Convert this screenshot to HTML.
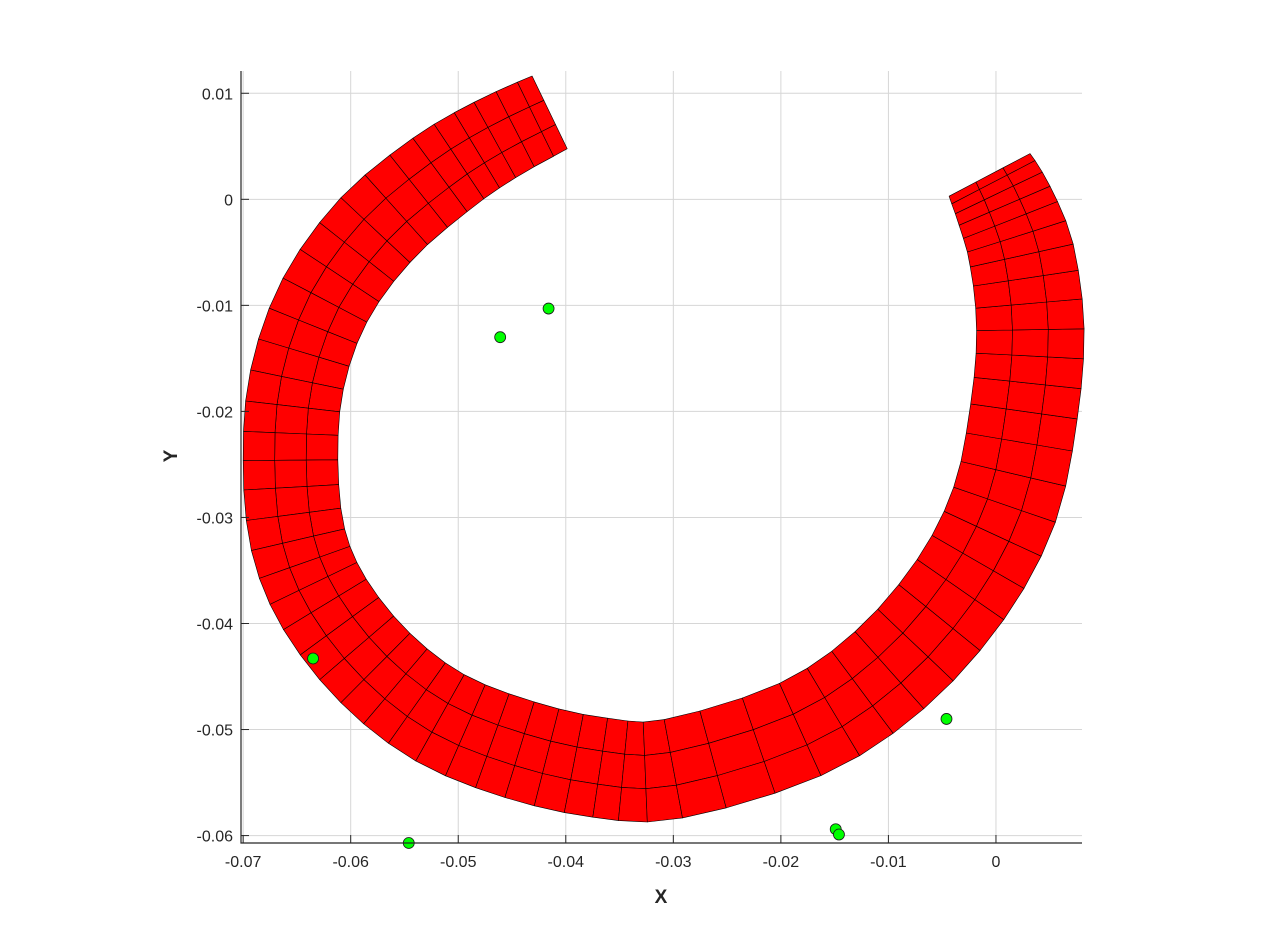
<!DOCTYPE html>
<html><head><meta charset="utf-8"><style>
body{margin:0;background:#fff;}
svg{display:block;font-family:"Liberation Sans",sans-serif;}
</style></head><body>
<svg id="chart" width="1280" height="948" viewBox="0 0 1280 948">
<rect x="0" y="0" width="1280" height="948" fill="#fff"/>
<g id="grid"></g>
<g id="surf"></g>
<g id="pts"></g>
<g id="axes"></g>
<text x="661" y="903" font-size="19" font-weight="bold" text-anchor="middle" fill="#262626">X</text>
<text x="177" y="456" font-size="19" font-weight="bold" text-anchor="middle" fill="#262626" transform="rotate(-90 177 456)">Y</text>
</svg>
<script>
const xTicks=[-0.07,-0.06,-0.05,-0.04,-0.03,-0.02,-0.01,0];
const xTickLabels=["-0.07","-0.06","-0.05","-0.04","-0.03","-0.02","-0.01","0"];
const yTicks=[0.01,0,-0.01,-0.02,-0.03,-0.04,-0.05,-0.06];
const yTickLabels=["0.01","0","-0.01","-0.02","-0.03","-0.04","-0.05","-0.06"];
const centerX=[-0.0415,-0.0466,-0.0517,-0.0577,-0.0624,-0.0650,-0.0656,-0.0649,-0.0624,-0.0577,-0.0517,-0.0443,-0.0368,-0.0300,-0.0182,-0.0099,-0.0033,0.0008,0.0026,0.0032,0.0024,0.0008,-0.0006];
const centerY=[0.0082,0.0056,0.0023,-0.0029,-0.0095,-0.0170,-0.0246,-0.0321,-0.0382,-0.0442,-0.0489,-0.0519,-0.0536,-0.0537,-0.0500,-0.0444,-0.0368,-0.0288,-0.0200,-0.0123,-0.0053,-0.0006,0.0023];
const tubeWidth=[0.0075,0.0080,0.0085,0.0088,0.0088,0.0088,0.0088,0.0089,0.0090,0.0091,0.0092,0.0093,0.0093,0.0093,0.0094,0.0096,0.0098,0.0100,0.0100,0.0100,0.0098,0.0092,0.0085];
const ptX=[-0.0416,-0.0461,-0.0635,-0.0546,-0.0149,-0.0146,-0.0046];
const ptY=[-0.0103,-0.0130,-0.0433,-0.0607,-0.0594,-0.0599,-0.0490];

const X0=-0.0702,X1=0.0080,Y0=-0.0607,Y1=0.0121;
const L=241,R=1082,T=71,B=843;
const sx=v=>L+(v-X0)/(X1-X0)*(R-L);
const sy=v=>B-(v-Y0)/(Y1-Y0)*(B-T);
const NS="http://www.w3.org/2000/svg";
function mk(tag,attrs,parent){const e=document.createElementNS(NS,tag);for(const k in attrs)e.setAttribute(k,attrs[k]);parent.appendChild(e);return e;}
const grid=document.getElementById('grid'),axes=document.getElementById('axes');
xTicks.forEach((t,i)=>{
  const l=mk('line',{x1:sx(t),x2:sx(t),y1:T,y2:B,stroke:'#d6d6d6','stroke-width':1},grid);
  
  const tk=mk('line',{x1:sx(t),x2:sx(t),y1:B,y2:B-8,stroke:'#262626'},axes);
  
  const tx=mk('text',{x:sx(t),y:B+24,'font-size':16,'text-anchor':'middle',fill:'#262626'},axes);
  tx.textContent=xTickLabels[i];
  
});
yTicks.forEach((t,i)=>{
  const l=mk('line',{x1:L,x2:R,y1:sy(t),y2:sy(t),stroke:'#d6d6d6','stroke-width':1},grid);
  
  const tk=mk('line',{x1:L,x2:L+8,y1:sy(t),y2:sy(t),stroke:'#262626'},axes);
  
  const tx=mk('text',{x:L-8,y:sy(t)+6,'font-size':16,'text-anchor':'end',fill:'#262626'},axes);
  tx.textContent=yTickLabels[i];
  
});
const ax=mk('path',{d:`M${L},${T} L${L},${B} L${R},${B}`,stroke:'#262626','stroke-width':1.2,fill:'none'},axes);


const P=[];const n=centerX.length,sub=3;
for(let i=0;i<n-1;i++){
  const i0=Math.max(0,i-1),i2=i+1,i3=Math.min(n-1,i+2);
  for(let s=0;s<sub;s++){
    const t=s/sub,t2=t*t,t3=t2*t;
    const cr=(a,b,c,d)=>0.5*((2*b)+(-a+c)*t+(2*a-5*b+4*c-d)*t2+(-a+3*b-3*c+d)*t3);
    P.push([cr(centerX[i0],centerX[i],centerX[i2],centerX[i3]),cr(centerY[i0],centerY[i],centerY[i2],centerY[i3]),tubeWidth[i]+(tubeWidth[i2]-tubeWidth[i])*t]);
  }
}
P.push([centerX[n-1],centerY[n-1],tubeWidth[n-1]]);
const lanes=3;const rows=[];
P.forEach((p,k)=>{
  const a=P[Math.max(0,k-1)],b=P[Math.min(P.length-1,k+1)];
  let dx=sx(b[0])-sx(a[0]),dy=sy(b[1])-sy(a[1]);const len=Math.hypot(dx,dy)||1;
  const nx=-dy/len,ny=dx/len;const hw=p[2]/2*(R-L)/(X1-X0);
  const row=[];
  for(let j=0;j<=lanes;j++){const f=-1+2*j/lanes;row.push([sx(p[0])+nx*hw*f,sy(p[1])+ny*hw*f]);}
  rows.push(row);
});
const surf=document.getElementById('surf');
for(let k=0;k<rows.length-1;k++)for(let j=0;j<lanes;j++){
  const q=[rows[k][j],rows[k][j+1],rows[k+1][j+1],rows[k+1][j]];
  const pg=mk('polygon',{points:q.map(v=>v[0].toFixed(1)+','+v[1].toFixed(1)).join(' '),fill:'#ff0000',stroke:'#000','stroke-width':0.6,'stroke-linejoin':'round'},surf);
  
}
const pts=document.getElementById('pts');
ptX.forEach((v,i)=>{
  const c=mk('circle',{cx:sx(v),cy:sy(ptY[i]),r:5.5,fill:'#00ff00',stroke:'#1a1a1a','stroke-width':0.8},pts);
  
});
</script>
</body></html>
